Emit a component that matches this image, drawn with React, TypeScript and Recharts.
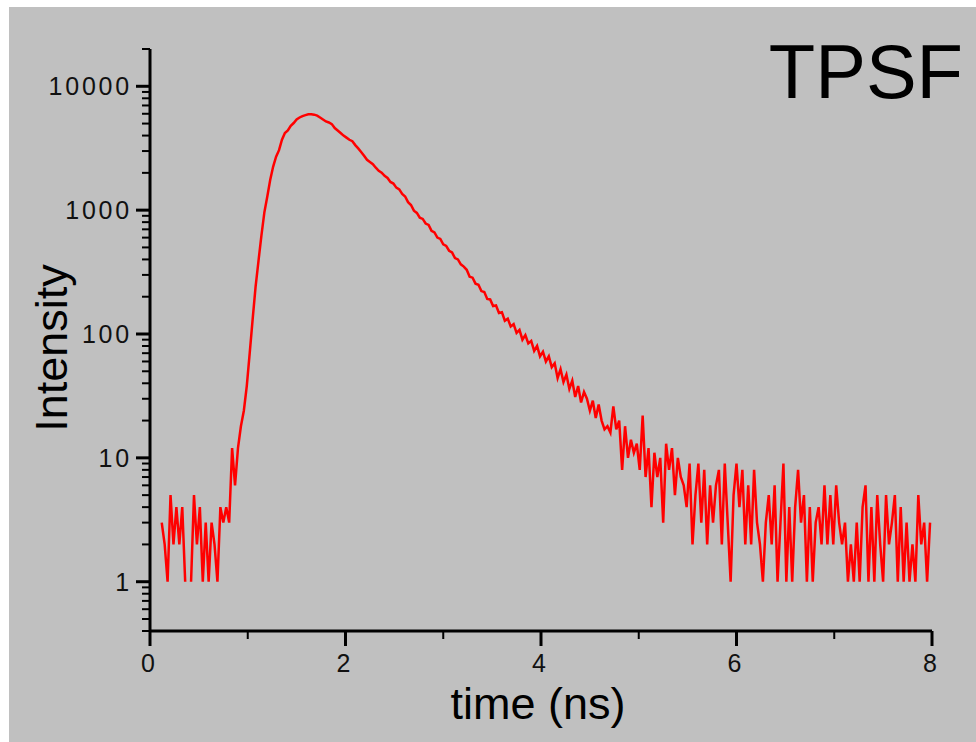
import { LineChart, Line, XAxis, YAxis, Label } from 'recharts'

// time bins of the TCSPC histogram (ns)
const binStart = 0.12
const binWidth = 0.03

// photon counts per bin (null = empty bin, not drawn on log axis)
const counts: Array<number | null> = [
  3, 2, 1, 5, 2, 4, 2, 4, 1, null, 1, 5, 2, 4, 1, 3, 1, 3, 2, 1, 4, 3, 4, 3,
  12, 6, 12, 18, 24, 38, 70, 131, 240, 390, 625, 960, 1290, 1760, 2250, 2700,
  3050, 3700, 4200, 4400, 4800, 5050, 5400, 5600, 5750, 5850, 5950, 5950, 5900, 5800,
  5600, 5400, 5200, 5100, 4950, 4600, 4400, 4200, 4000, 3850, 3700, 3600, 3350, 3150,
  2950, 2750, 2550, 2450, 2350, 2200, 2080, 2010, 1890, 1820, 1690, 1640, 1520, 1470,
  1350, 1290, 1160, 1100, 990, 950, 870, 850, 780, 760, 680, 660, 600, 585,
  530, 515, 470, 455, 410, 400, 365, 350, 330, 290, 285, 255, 250, 222,
  218, 192, 190, 168, 170, 148, 150, 128, 133, 115, 120, 102, 108, 90,
  98, 84, 88, 73, 80, 66, 72, 60, 66, 54, 58, 44, 52, 41,
  47, 36, 42, 31, 38, 28, 34, 30, 24, 29, 21, 27, 20, 17,
  18, 16, 26, 17, 20, 8, 18, 10, 14, 11, 13, 8, 22, 7,
  12, 4, 11, 7, 10, 3, 13, 8, 12, 5, 10, 7, 6, 4,
  9, 2, 5, 9, 3, 8, 2, 6, 3, 6, 8, 2, 9, 3,
  1, 5, 9, 4, 8, 2, 6, 2, 8, 3, 2, 1, 3, 5,
  2, 6, 1, 3, 9, 1, 4, 1, 4, 8, 3, 5, 1, 4,
  1, 3, 4, 2, 6, 2, 5, 2, 6, 3, 2, 3, 1, 2,
  1, 3, 1, 4, 6, 1, 4, 1, 5, 2, 1, 5, 2, 3,
  5, 1, 4, 1, 3, 1, 2, 1, 5, 2, 3, 1, 3,
]

const xTicks = [0, 1, 2, 3, 4, 5, 6, 7, 8]
const yMajor = [1, 10, 100, 1000, 10000]
const yTicks = [
  0.4, 0.5, 0.6, 0.7, 0.8, 0.9,
  1, 2, 3, 4, 5, 6, 7, 8, 9,
  10, 20, 30, 40, 50, 60, 70, 80, 90,
  100, 200, 300, 400, 500, 600, 700, 800, 900,
  1000, 2000, 3000, 4000, 5000, 6000, 7000, 8000, 9000,
  10000, 20000,
]

const data = counts.map((v, i) => ({
  t: Math.round((binStart + i * binWidth) * 100) / 100,
  v,
}))

const font = '"Liberation Sans", Arial, sans-serif'

const YTick = ({ x, y, payload }: any) => {
  const major = yMajor.includes(payload.value)
  return (
    <g>
      <line x1={x} x2={x - (major ? 14 : 8)} y1={y} y2={y} stroke="#000" strokeWidth={major ? 3 : 2} />
      {major && (
        <text x={x - 18} y={y + 9} textAnchor="end" fontSize={25} letterSpacing={2.8} fontFamily={font} fill="#111">
          {payload.value}
        </text>
      )}
    </g>
  )
}

const XTick = ({ x, y, payload }: any) => {
  const major = payload.value % 2 === 0
  return (
    <g>
      <line x1={x} x2={x} y1={y} y2={y + (major ? 15 : 8)} stroke="#000" strokeWidth={major ? 3 : 2} />
      {major && (
        <text x={x - 2} y={y + 41} textAnchor="middle" fontSize={25} fontFamily={font} fill="#111">
          {payload.value}
        </text>
      )}
    </g>
  )
}

export default function App() {
  return (
    <div style={{ position: 'absolute', left: 0, top: 0, width: 976, height: 742, background: '#fff', overflow: 'hidden' }}>
      <div style={{ position: 'absolute', left: 9, top: 7, right: 0, bottom: 0, background: '#c0c0c0' }} />
      <div style={{ position: 'absolute', left: 0, top: 0 }}>
        <LineChart width={976} height={742} data={data} margin={{ top: 49, right: 44, bottom: 110, left: 149 }}>
          <XAxis
            type="number"
            dataKey="t"
            domain={[0, 8]}
            ticks={xTicks}
            interval={0}
            height={1}
            tickSize={0}
            tickMargin={0}
            tickLine={false}
            tick={<XTick />}
            axisLine={{ stroke: '#000', strokeWidth: 3 }}
          >
            <Label
              content={({ viewBox }: any) => (
                <text x={viewBox.x + viewBox.width / 2 - 3} y={viewBox.y + 88} textAnchor="middle" fontSize={45} fontFamily={font} fill="#000">
                  time (ns)
                </text>
              )}
            />
          </XAxis>
          <YAxis
            scale="log"
            domain={[0.4, 20000]}
            allowDataOverflow
            ticks={yTicks}
            interval={0}
            width={1}
            tickSize={0}
            tickMargin={0}
            tickLine={false}
            tick={<YTick />}
            axisLine={{ stroke: '#000', strokeWidth: 3 }}
          >
            <Label
              content={({ viewBox }: any) => {
                const cy = viewBox.y + viewBox.height / 2 + 8
                return (
                  <text x={67} y={cy} transform={`rotate(-90, 67, ${cy})`} textAnchor="middle" fontSize={45} fontFamily={font} fill="#000">
                    Intensity
                  </text>
                )
              }}
            />
          </YAxis>
          <Line type="linear" dataKey="v" stroke="#ff0000" strokeWidth={2.5} dot={false} isAnimationActive={false} />
        </LineChart>
      </div>
      <svg width={976} height={742} style={{ position: 'absolute', left: 0, top: 0, pointerEvents: 'none' }}>
        <text x={963} y={98} textAnchor="end" fontSize={76} fontFamily={font} fill="#000">
          TPSF
        </text>
      </svg>
    </div>
  )
}
